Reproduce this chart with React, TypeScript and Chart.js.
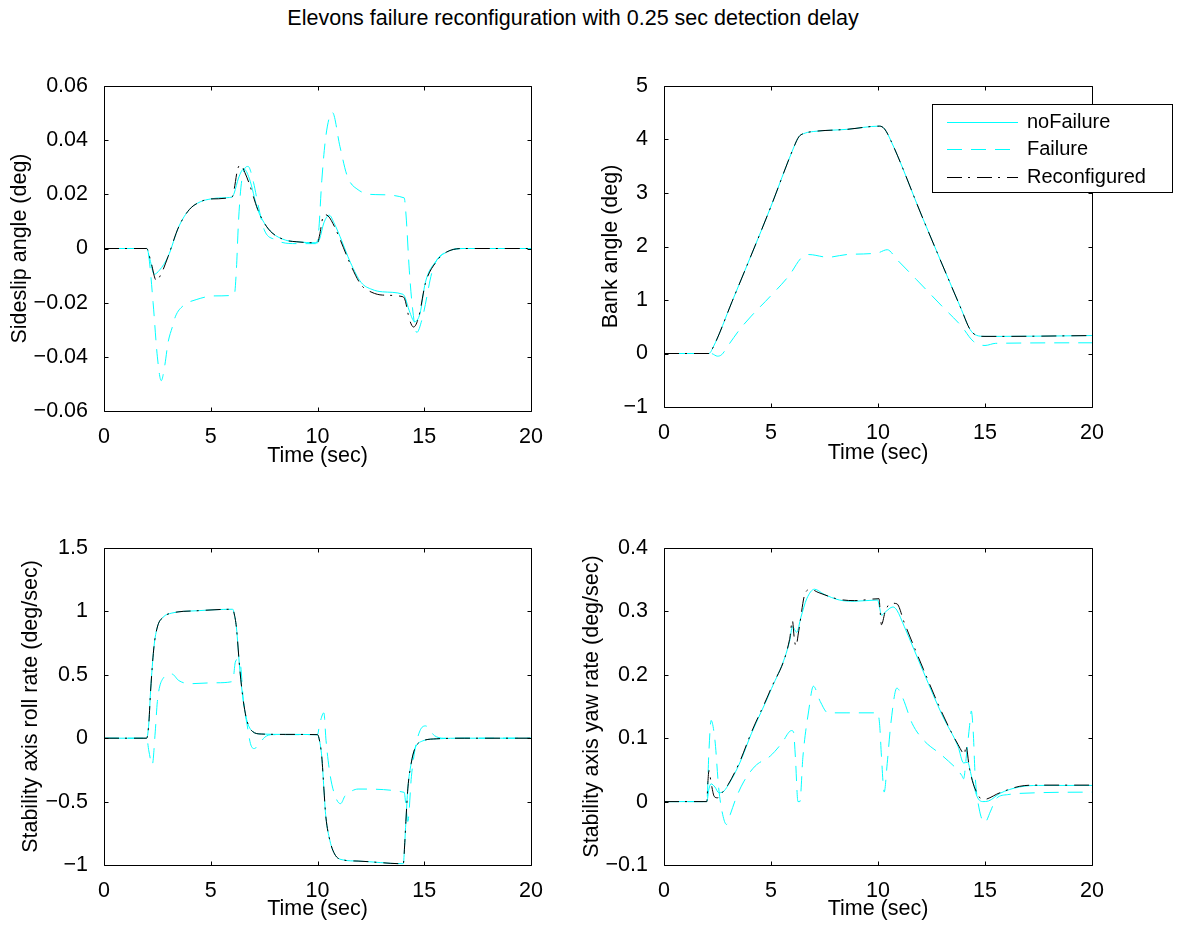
import React, { useEffect, useRef } from 'react';
import { Chart, registerables } from 'chart.js';

Chart.register(...registerables);

const FONT_FAMILY = '"Liberation Sans", Arial, Helvetica, sans-serif';
const FONT_SIZE = 21.5;
const LEGEND_FONT_SIZE = 20;
const HALF_LINE = (FONT_SIZE * 1.2) / 2;

const TITLE = 'Elevons failure reconfiguration with 0.25 sec detection delay';
const LEGEND_LABELS = ['noFailure', 'Failure', 'Reconfigured'];
const X_LABEL = 'Time (sec)';
const X_TICKS = [0, 5, 10, 15, 20];

// ---------- Sideslip angle (deg) ----------
const BETA_Y_TICKS = [-0.06, -0.04, -0.02, 0, 0.02, 0.04, 0.06];
const betaNoFailT = [0, 2.0, 2.15, 2.35, 2.6, 3.0, 3.5, 4.0, 4.5, 5.0, 5.5, 6.0, 6.1, 6.3, 6.55, 6.8, 7.2, 7.5, 7.87, 8.5, 9.0, 10.0, 10.1, 10.3, 10.55, 10.8, 11.05, 11.55, 12.05, 12.55, 13.05, 14.0, 14.1, 14.3, 14.55, 14.8, 15.05, 15.55, 16.05, 16.9, 20];
const betaNoFail = [0, 0, -0.004, -0.0095, -0.008, -0.003, 0.008, 0.0144, 0.0172, 0.0183, 0.0187, 0.019, 0.0205, 0.026, 0.0294, 0.026, 0.0144, 0.0095, 0.0058, 0.0031, 0.0025, 0.0021, 0.0035, 0.0095, 0.0123, 0.009, 0.0045, -0.0053, -0.0126, -0.0151, -0.016, -0.0169, -0.018, -0.023, -0.027, -0.024, -0.0126, -0.0047, -0.0013, 0, 0];
const betaFailT = [0, 2.0, 2.1, 2.3, 2.5, 2.68, 2.85, 3.0, 3.2, 3.35, 3.7, 4.35, 5.2, 6.1, 6.2, 6.3, 6.45, 6.75, 7.0, 7.2, 7.5, 8.0, 9.0, 9.9, 10.05, 10.2, 10.4, 10.7, 11.05, 11.4, 11.9, 12.7, 14.06, 14.15, 14.3, 14.45, 14.65, 14.9, 15.4, 15.9, 16.9, 20];
const betaFail = [0, 0, -0.003, -0.02, -0.04, -0.0488, -0.043, -0.0347, -0.029, -0.025, -0.0212, -0.0188, -0.0175, -0.0172, -0.008, 0.01, 0.025, 0.0303, 0.0245, 0.0168, 0.007, 0.0033, 0.0018, 0.0018, 0.006, 0.025, 0.042, 0.0502, 0.0377, 0.0266, 0.0217, 0.0199, 0.0187, 0.012, -0.008, -0.022, -0.031, -0.026, -0.0077, -0.0018, 0, 0];
const betaReconfT = [0, 2.0, 2.2, 2.45, 2.7, 3.0, 3.5, 4.0, 4.5, 5.0, 6.0, 6.1, 6.25, 6.4, 6.6, 6.8, 7.2, 7.5, 7.87, 8.5, 9.0, 10.0, 10.1, 10.3, 10.5, 10.8, 11.05, 11.55, 12.05, 12.55, 13.05, 14.0, 14.1, 14.3, 14.5, 14.75, 15.05, 15.55, 16.05, 16.9, 20];
const betaReconf = [0, 0, -0.005, -0.0118, -0.009, -0.003, 0.008, 0.0144, 0.0172, 0.0183, 0.019, 0.022, 0.029, 0.031, 0.028, 0.024, 0.0144, 0.0095, 0.0058, 0.0031, 0.0025, 0.0021, 0.005, 0.0125, 0.012, 0.008, 0.0035, -0.006, -0.0135, -0.0162, -0.0172, -0.0178, -0.019, -0.026, -0.029, -0.025, -0.013, -0.005, -0.0013, 0, 0];

// ---------- Bank angle (deg) ----------
const PHI_Y_TICKS = [-1, 0, 1, 2, 3, 4, 5];
const phiNoFailT = [0, 2.1, 2.3, 3.18, 4.97, 6.05, 6.3, 6.6, 7.0, 8.55, 10.07, 10.3, 10.6, 12.1, 13.9, 14.3, 14.6, 15.0, 15.7, 20];
const phiNoFail = [0, 0, 0.12, 0.97, 2.72, 3.84, 4.05, 4.12, 4.15, 4.19, 4.25, 4.2, 3.98, 2.52, 0.82, 0.45, 0.34, 0.32, 0.32, 0.335];
const phiFailT = [0, 2.2, 2.5, 2.7, 3.0, 3.54, 4.08, 4.97, 5.87, 6.4, 6.76, 7.66, 8.55, 9.98, 10.43, 10.9, 11.8, 13.0, 13.9, 14.45, 15.0, 15.5, 20];
const phiFail = [0, 0, -0.05, -0.02, 0.15, 0.45, 0.7, 1.07, 1.47, 1.78, 1.85, 1.8, 1.85, 1.88, 1.94, 1.75, 1.38, 0.88, 0.51, 0.23, 0.15, 0.19, 0.2];
const phiReconfT = [0, 2.1, 2.3, 3.18, 4.97, 6.05, 6.3, 6.6, 7.0, 8.55, 10.07, 10.3, 10.6, 12.1, 13.9, 14.3, 14.6, 15.0, 15.7, 20];
const phiReconf = [0, 0, 0.12, 0.97, 2.72, 3.84, 4.05, 4.12, 4.15, 4.19, 4.25, 4.2, 3.98, 2.52, 0.82, 0.45, 0.34, 0.32, 0.32, 0.335];

// ---------- Stability axis roll rate (deg/sec) ----------
const P_Y_TICKS = [-1, -0.5, 0, 0.5, 1, 1.5];
const pNoFailT = [0, 2.0, 2.1, 2.18, 2.34, 2.5, 2.76, 3.18, 4.35, 6.03, 6.1, 6.2, 6.36, 6.53, 6.7, 6.95, 7.36, 8.5, 10.0, 10.07, 10.2, 10.3, 10.38, 10.55, 10.8, 11.2, 11.9, 14.02, 14.08, 14.14, 14.23, 14.39, 14.56, 14.9, 15.56, 16.9, 20];
const pNoFail = [0, 0, 0.12, 0.366, 0.72, 0.877, 0.953, 0.987, 1.005, 1.017, 0.98, 0.877, 0.545, 0.289, 0.135, 0.054, 0.033, 0.03, 0.028, 0.0, -0.146, -0.4, -0.6, -0.785, -0.913, -0.96, -0.969, -0.99, -0.85, -0.657, -0.4, -0.197, -0.082, -0.023, -0.005, 0, 0];
const pFailT = [0, 2.0, 2.1, 2.26, 2.4, 2.5, 2.76, 3.18, 3.5, 4.0, 5.2, 6.03, 6.15, 6.25, 6.4, 6.53, 6.7, 6.86, 7.03, 7.28, 7.53, 7.87, 10.0, 10.1, 10.3, 10.4, 10.6, 10.88, 11.08, 11.3, 11.63, 11.9, 14.06, 14.15, 14.23, 14.4, 14.56, 14.8, 15.06, 15.48, 15.9, 20];
const pFail = [0, 0, -0.1, -0.21, 0.05, 0.29, 0.47, 0.506, 0.455, 0.43, 0.437, 0.447, 0.6, 0.62, 0.57, 0.289, 0.11, -0.043, -0.082, -0.043, 0.008, 0.028, 0.028, 0.11, 0.2, -0.018, -0.3, -0.478, -0.516, -0.452, -0.414, -0.401, -0.427, -0.55, -0.657, -0.3, -0.095, 0.059, 0.097, 0.02, 0, 0];
const pReconfT = [0, 2.0, 2.1, 2.18, 2.34, 2.5, 2.76, 3.18, 4.35, 6.03, 6.1, 6.2, 6.36, 6.53, 6.7, 6.95, 7.36, 8.5, 10.0, 10.07, 10.2, 10.3, 10.38, 10.55, 10.8, 11.2, 11.9, 14.02, 14.08, 14.14, 14.23, 14.39, 14.56, 14.9, 15.56, 16.9, 20];
const pReconf = [0, 0, 0.12, 0.366, 0.72, 0.877, 0.953, 0.987, 1.005, 1.017, 0.98, 0.877, 0.545, 0.289, 0.135, 0.054, 0.033, 0.03, 0.028, 0.0, -0.146, -0.4, -0.6, -0.785, -0.913, -0.96, -0.969, -0.99, -0.85, -0.657, -0.4, -0.197, -0.082, -0.023, -0.005, 0, 0];

// ---------- Stability axis yaw rate (deg/sec) ----------
const R_Y_TICKS = [-0.1, 0, 0.1, 0.2, 0.3, 0.4];
const rNoFailT = [0, 2.0, 2.1, 2.2, 2.38, 2.56, 2.74, 3.0, 3.54, 4.08, 4.97, 5.87, 6.0, 6.2, 6.4, 6.67, 7.03, 7.48, 8.19, 8.9, 9.98, 10.08, 10.16, 10.34, 10.7, 10.88, 11.23, 12.13, 13.02, 13.74, 14.0, 14.19, 14.36, 14.63, 14.9, 15.17, 15.7, 16.6, 17.5, 20];
const rNoFail = [0, 0, 0.02, 0.028, 0.023, 0.014, 0.015, 0.026, 0.061, 0.107, 0.174, 0.253, 0.276, 0.267, 0.291, 0.32, 0.335, 0.327, 0.318, 0.316, 0.318, 0.305, 0.294, 0.299, 0.307, 0.302, 0.276, 0.204, 0.135, 0.087, 0.061, 0.062, 0.041, 0.008, 0, 0.001, 0.013, 0.023, 0.0255, 0.0255];
const rFailT = [0, 2.0, 2.1, 2.2, 2.38, 2.56, 2.74, 2.92, 3.1, 3.36, 3.72, 4.26, 4.97, 5.5, 5.96, 6.05, 6.14, 6.26, 6.35, 6.49, 6.76, 6.98, 7.3, 7.66, 8.55, 9.98, 10.08, 10.16, 10.29, 10.43, 10.6, 10.88, 11.15, 11.6, 12.13, 13.02, 13.92, 14.0, 14.13, 14.28, 14.36, 14.45, 14.54, 14.72, 14.99, 15.26, 15.53, 16.06, 17.5, 20];
const rFail = [0, 0, 0.08, 0.128, 0.097, 0.02, -0.02, -0.036, -0.02, 0.005, 0.031, 0.056, 0.072, 0.092, 0.112, 0.11, 0.07, 0.0, 0.0, 0.07, 0.143, 0.182, 0.158, 0.14, 0.14, 0.14, 0.12, 0.072, 0.015, 0.06, 0.123, 0.179, 0.164, 0.123, 0.097, 0.072, 0.041, 0.036, 0.072, 0.12, 0.143, 0.11, 0.041, -0.01, -0.033, -0.015, 0.005, 0.011, 0.014, 0.015];
const rReconfT = [0, 2.0, 2.05, 2.1, 2.2, 2.35, 2.5, 2.74, 3.0, 3.54, 4.08, 4.97, 5.87, 6.0, 6.08, 6.16, 6.3, 6.58, 6.85, 7.2, 8.19, 8.9, 10.05, 10.1, 10.16, 10.34, 10.6, 10.88, 11.23, 12.13, 13.02, 13.74, 14.05, 14.1, 14.28, 14.54, 14.9, 15.7, 16.6, 17.5, 20];
const rReconf = [0, 0, 0.03, 0.049, 0.03, 0.008, 0.006, 0.015, 0.027, 0.063, 0.109, 0.176, 0.256, 0.286, 0.26, 0.245, 0.27, 0.327, 0.335, 0.33, 0.319, 0.317, 0.32, 0.3, 0.279, 0.3, 0.313, 0.312, 0.282, 0.208, 0.138, 0.09, 0.075, 0.089, 0.051, 0.02, 0.003, 0.014, 0.024, 0.026, 0.026];

// ---------- styles ----------
const SERIES_STYLES = [
  { color: '#00ffff', dash: [] as number[], order: 3 },
  { color: '#00ffff', dash: [15, 9], order: 2 },
  { color: '#000000', dash: [15, 6, 2, 7], order: 1 },
];

const fmt = (v: number) => {
  const s = String(parseFloat(Number(v).toFixed(4)));
  return s.startsWith('-') ? '\u2212' + s.slice(1) : s;
};

const matlabAxes = {
  id: 'matlabAxes',
  afterDatasetsDraw(chart: any) {
    const { ctx, chartArea: a, scales } = chart;
    const L = Math.round(a.left) + 0.5;
    const T = Math.round(a.top) + 0.5;
    const R = Math.round(a.right) + 0.5;
    const B = Math.round(a.bottom) + 0.5;
    const tl = 4;
    ctx.save();
    ctx.setLineDash([]);
    ctx.strokeStyle = '#000';
    ctx.lineWidth = 1;
    ctx.beginPath();
    ctx.moveTo(L, T);
    ctx.lineTo(R, T);
    ctx.lineTo(R, B);
    ctx.lineTo(L, B);
    ctx.closePath();
    for (const t of scales.x.ticks) {
      const px = Math.round(scales.x.getPixelForValue(t.value)) + 0.5;
      ctx.moveTo(px, B);
      ctx.lineTo(px, B - tl);
      ctx.moveTo(px, T);
      ctx.lineTo(px, T + tl);
    }
    for (const t of scales.y.ticks) {
      const py = Math.round(scales.y.getPixelForValue(t.value)) + 0.5;
      ctx.moveTo(L, py);
      ctx.lineTo(L + tl, py);
      ctx.moveTo(R, py);
      ctx.lineTo(R - tl, py);
    }
    ctx.stroke();
    ctx.restore();
  },
};

const matlabLegend = {
  id: 'matlabLegend',
  afterDraw(chart: any, _args: any, opts: any) {
    if (!opts || !opts.enabled) return;
    const { ctx } = chart;
    ctx.save();
    ctx.setLineDash([]);
    ctx.fillStyle = '#ffffff';
    ctx.fillRect(opts.x, opts.y, opts.w, opts.h);
    ctx.strokeStyle = '#000';
    ctx.lineWidth = 1;
    ctx.strokeRect(Math.round(opts.x) + 0.5, Math.round(opts.y) + 0.5, Math.round(opts.w), Math.round(opts.h));
    ctx.font = `${LEGEND_FONT_SIZE}px ${FONT_FAMILY}`;
    ctx.textBaseline = 'middle';
    ctx.textAlign = 'left';
    chart.data.datasets.forEach((ds: any, i: number) => {
      const y = Math.round(opts.rows[i]) + 0.5;
      ctx.strokeStyle = ds.borderColor;
      ctx.setLineDash(ds.borderDash || []);
      ctx.beginPath();
      ctx.moveTo(opts.lineX0, y);
      ctx.lineTo(opts.lineX1, y);
      ctx.stroke();
      ctx.fillStyle = '#000';
      ctx.fillText(ds.label, opts.textX, y);
    });
    ctx.restore();
  },
};

type Area = { left: number; top: number; right: number; bottom: number };
type Spec = {
  yLabel: string;
  yTicks: number[];
  series: { t: number[]; v: number[] }[];
  area: Area;
  yTitleX: number;
  xTitleY: number;
  canvas: { x: number; y: number; w: number; h: number };
  legend?: boolean;
};

const PLOTS: Spec[] = [
  {
    yLabel: 'Sideslip angle (deg)',
    yTicks: BETA_Y_TICKS,
    series: [
      { t: betaNoFailT, v: betaNoFail },
      { t: betaFailT, v: betaFail },
      { t: betaReconfT, v: betaReconf },
    ],
    area: { left: 104, top: 86, right: 531, bottom: 411 },
    yTitleX: 20,
    xTitleY: 456,
    canvas: { x: 0, y: 50, w: 575, h: 440 },
  },
  {
    yLabel: 'Bank angle (deg)',
    yTicks: PHI_Y_TICKS,
    series: [
      { t: phiNoFailT, v: phiNoFail },
      { t: phiFailT, v: phiFail },
      { t: phiReconfT, v: phiReconf },
    ],
    area: { left: 664, top: 86, right: 1092, bottom: 407 },
    yTitleX: 611,
    xTitleY: 453,
    canvas: { x: 575, y: 50, w: 603, h: 440 },
    legend: true,
  },
  {
    yLabel: 'Stability axis roll rate (deg/sec)',
    yTicks: P_Y_TICKS,
    series: [
      { t: pNoFailT, v: pNoFail },
      { t: pFailT, v: pFail },
      { t: pReconfT, v: pReconf },
    ],
    area: { left: 104, top: 548, right: 531, bottom: 865 },
    yTitleX: 31,
    xTitleY: 909,
    canvas: { x: 0, y: 510, w: 575, h: 416 },
  },
  {
    yLabel: 'Stability axis yaw rate (deg/sec)',
    yTicks: R_Y_TICKS,
    series: [
      { t: rNoFailT, v: rNoFail },
      { t: rFailT, v: rFail },
      { t: rReconfT, v: rReconf },
    ],
    area: { left: 664, top: 548, right: 1092, bottom: 865 },
    yTitleX: 592,
    xTitleY: 909,
    canvas: { x: 575, y: 510, w: 603, h: 416 },
  },
];

const LEGEND_BOX = { left: 932, top: 104, right: 1172, bottom: 192, rows: [121.7, 149.3, 177.3], lineX0: 947, lineX1: 1018, textX: 1027 };

function Plot({ spec }: { spec: Spec }) {
  const ref = useRef<HTMLCanvasElement>(null);
  const cv = spec.canvas;
  useEffect(() => {
    const el = ref.current;
    if (!el) return;
    const area = spec.area;
    const pad = {
      left: spec.yTitleX - HALF_LINE - cv.x,
      top: area.top - cv.y,
      right: cv.x + cv.w - area.right,
      bottom: cv.y + cv.h - (spec.xTitleY + HALF_LINE),
    };
    const yWidth = area.left - (spec.yTitleX - HALF_LINE);
    const xHeight = spec.xTitleY + HALF_LINE - area.bottom;
    const font = { family: FONT_FAMILY, size: FONT_SIZE };
    const legendOpts = spec.legend
      ? {
          enabled: true,
          x: LEGEND_BOX.left - cv.x,
          y: LEGEND_BOX.top - cv.y,
          w: LEGEND_BOX.right - LEGEND_BOX.left,
          h: LEGEND_BOX.bottom - LEGEND_BOX.top,
          rows: LEGEND_BOX.rows.map((r) => r - cv.y),
          lineX0: LEGEND_BOX.lineX0 - cv.x,
          lineX1: LEGEND_BOX.lineX1 - cv.x,
          textX: LEGEND_BOX.textX - cv.x,
        }
      : { enabled: false };
    const chart = new Chart(el, {
      type: 'line',
      data: {
        datasets: spec.series.map((s, i) => ({
          label: LEGEND_LABELS[i],
          data: s.t.map((t, j) => ({ x: t, y: s.v[j] })),
          borderColor: SERIES_STYLES[i].color,
          borderDash: SERIES_STYLES[i].dash,
          borderWidth: 1,
          pointRadius: 0,
          fill: false,
          cubicInterpolationMode: 'monotone',
          order: SERIES_STYLES[i].order,
        })),
      },
      options: {
        responsive: false,
        animation: false,
        devicePixelRatio: 1,
        events: [],
        layout: { padding: pad },
        plugins: {
          legend: { display: false },
          tooltip: { enabled: false },
          title: { display: false },
          matlabLegend: legendOpts,
        } as any,
        scales: {
          x: {
            type: 'linear',
            min: X_TICKS[0],
            max: X_TICKS[X_TICKS.length - 1],
            afterBuildTicks: (s: any) => {
              s.ticks = X_TICKS.map((v) => ({ value: v }));
            },
            afterFit: (s: any) => {
              s.height = xHeight;
            },
            grid: { display: false },
            border: { display: false },
            ticks: { font, color: '#000', padding: 5, maxRotation: 0, autoSkip: false, callback: (v: any) => fmt(v) },
            title: { display: true, text: X_LABEL, font, color: '#000', padding: 0 },
          },
          y: {
            type: 'linear',
            min: spec.yTicks[0],
            max: spec.yTicks[spec.yTicks.length - 1],
            afterBuildTicks: (s: any) => {
              s.ticks = spec.yTicks.map((v) => ({ value: v }));
            },
            afterFit: (s: any) => {
              s.width = yWidth;
            },
            grid: { display: false },
            border: { display: false },
            ticks: { font, color: '#000', padding: 8, autoSkip: false, callback: (v: any) => fmt(v) },
            title: { display: true, text: spec.yLabel, font, color: '#000', padding: 0 },
          },
        },
      } as any,
      plugins: [matlabAxes, matlabLegend],
    });
    return () => chart.destroy();
  }, []);
  return (
    <canvas
      ref={ref}
      width={cv.w}
      height={cv.h}
      style={{ position: 'absolute', left: cv.x, top: cv.y, width: cv.w, height: cv.h }}
    />
  );
}

export default function App() {
  return (
    <div style={{ position: 'absolute', left: 0, top: 0, width: 1178, height: 926, overflow: 'hidden', background: '#fff' }}>
      <div
        style={{
          position: 'absolute',
          left: 0,
          top: 6,
          width: 1146,
          textAlign: 'center',
          fontFamily: FONT_FAMILY,
          fontSize: FONT_SIZE,
          lineHeight: '24px',
          color: '#000',
          whiteSpace: 'nowrap',
        }}
      >
        {TITLE}
      </div>
      {PLOTS.map((p, i) => (
        <Plot key={i} spec={p} />
      ))}
    </div>
  );
}
